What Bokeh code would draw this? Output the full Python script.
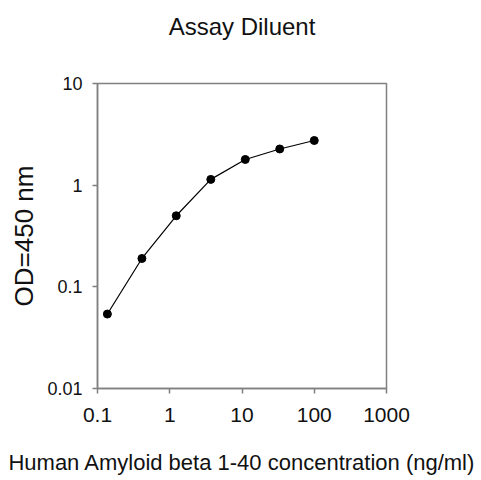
from bokeh.plotting import figure
from bokeh.models import FixedTicker, CustomJSTickFormatter, Title
from bokeh.embed import file_html
from bokeh.resources import INLINE

# Data (3-fold dilution series)
conc = [0.137, 0.412, 1.23, 3.70, 11.1, 33.3, 100.0]
od = [0.054, 0.19, 0.50, 1.14, 1.79, 2.27, 2.75]

x_ticks = [0.1, 1, 10, 100, 1000]
y_ticks = [0.01, 0.1, 1, 10]

TITLE = "Assay Diluent"
X_LABEL = "Human Amyloid beta 1-40 concentration (ng/ml)"
Y_LABEL = "OD=450 nm"

FONT = "Liberation Sans"
GRAY = "#808080"

p = figure(width=481, height=480, x_axis_type="log", y_axis_type="log",
           x_range=(0.1, 1000), y_range=(0.01, 10),
           output_backend="svg", toolbar_location=None,
           min_border_left=97, min_border_right=95,
           min_border_top=83, min_border_bottom=92)

# spacer between frame and title, then the title itself (outermost)
p.add_layout(Title(text=" ", text_font_size="1px", standoff=36), "above")
p.add_layout(Title(text=TITLE, align="center", standoff=10, offset=-4,
                   text_font=FONT, text_font_size="24px",
                   text_font_style="normal", text_color="#111111"), "above")

p.line(conc, od, line_color="black", line_width=1.2)
p.scatter(conc, od, size=8, fill_color="black", line_color="black")

p.grid.visible = False
p.outline_line_color = GRAY
p.outline_line_width = 1.5

fmt = CustomJSTickFormatter(code="return String(tick);")

for ax, ticks in ((p.xaxis[0], x_ticks), (p.yaxis[0], y_ticks)):
    ax.ticker = FixedTicker(ticks=ticks, minor_ticks=[])
    ax.formatter = fmt
    ax.axis_line_color = GRAY
    ax.axis_line_width = 1.5
    ax.major_tick_line_color = GRAY
    ax.major_tick_line_width = 1.5
    ax.major_tick_out = 5
    ax.major_tick_in = 0
    ax.minor_tick_line_color = None
    ax.major_label_text_font = FONT
    ax.major_label_text_color = "#111111"
    ax.axis_label_text_font = FONT
    ax.axis_label_text_font_style = "normal"
    ax.axis_label_text_color = "#111111"

p.xaxis.major_label_standoff = 14
p.yaxis.major_label_standoff = 10
p.xaxis.major_label_text_font_size = "21px"
p.yaxis.major_label_text_font_size = "18px"

p.xaxis.axis_label = X_LABEL
p.xaxis.axis_label_text_font_size = "22px"
p.xaxis.axis_label_standoff = 25

p.yaxis.axis_label = Y_LABEL
p.yaxis.axis_label_text_font_size = "26px"
p.yaxis.axis_label_standoff = 5

open("out.html", "w").write(file_html(p, INLINE))
